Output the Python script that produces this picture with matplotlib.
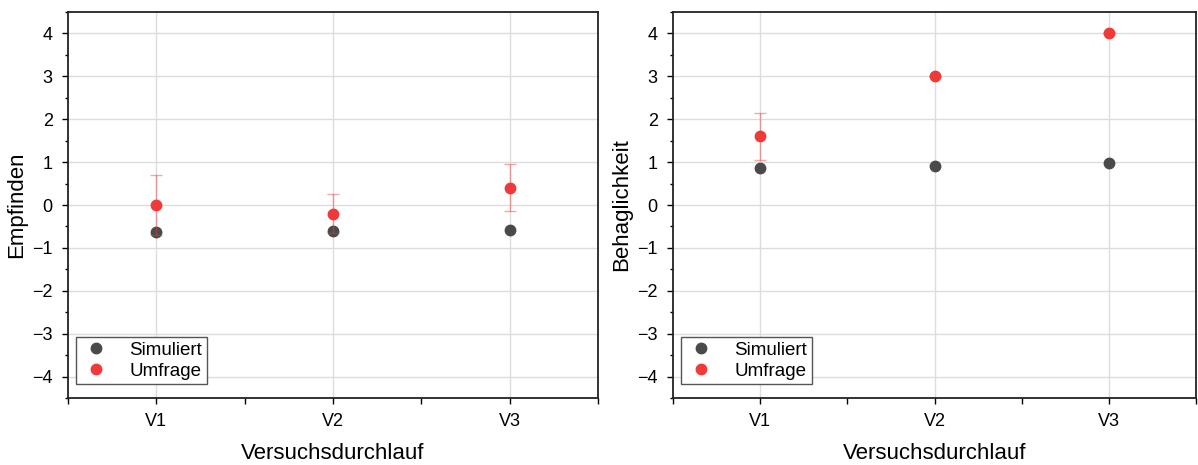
import matplotlib
matplotlib.use("Agg")
import matplotlib.pyplot as plt
from matplotlib.ticker import MultipleLocator

plt.rcParams["font.family"] = ["Liberation Sans", "DejaVu Sans"]

runs = ["V1", "V2", "V3"]
x_pos = [1, 2, 3]

# Empfinden
emp_sim = [-0.63, -0.60, -0.58]
emp_umf = [0.0, -0.2, 0.4]
emp_err = [0.7, 0.45, 0.55]

# Behaglichkeit
beh_sim = [0.87, 0.92, 0.99]
beh_umf = [1.6, 3.0, 4.0]
beh_err = [0.55, 0.0, 0.0]

GRAY = "#4a4a4a"
RED = "#f03a3a"


def drawPanel(axes, sim, umf, err, ylabel):
    axes.plot(x_pos, sim, "o", color=GRAY, ms=7.5, label="Simuliert", zorder=3)
    axes.errorbar(x_pos, umf, yerr=err, fmt="none", ecolor=RED, alpha=0.45,
                  elinewidth=1, capsize=4, capthick=1, zorder=4)
    axes.plot(x_pos, umf, "o", color=RED, ms=7.5, label="Umfrage", zorder=5)

    axes.set_xlim(0.5, 3.5)
    axes.set_ylim(-4.5, 4.5)
    axes.set_xticks(x_pos)
    axes.set_xticklabels(runs)
    axes.xaxis.set_minor_locator(MultipleLocator(0.5))
    axes.yaxis.set_major_locator(MultipleLocator(1))
    axes.yaxis.set_minor_locator(MultipleLocator(0.5))
    axes.tick_params(which="major", direction="out", length=4, width=1,
                     labelsize=13, pad=7)
    axes.tick_params(which="minor", direction="out", length=2.5, width=1)
    axes.tick_params(axis="x", which="minor", length=4)
    axes.grid(True, which="major", color="#dcdcdc", lw=1, zorder=0)
    axes.set_axisbelow(True)
    for sp in axes.spines.values():
        sp.set_linewidth(1.3)
        sp.set_color("#222222")

    axes.set_xlabel("Versuchsdurchlauf", fontsize=16, labelpad=9)
    axes.set_ylabel(ylabel, fontsize=16, labelpad=4)

    leg = axes.legend(loc="lower left", bbox_to_anchor=(0.015, 0.035),
                      fontsize=13.5, frameon=True, fancybox=False,
                      handletextpad=1.0, borderpad=0.25, labelspacing=0.2,
                      handlelength=1.6, borderaxespad=0)
    leg.get_frame().set_edgecolor("#555555")
    leg.get_frame().set_linewidth(1)
    leg.get_frame().set_alpha(1)


fig = plt.figure(figsize=(11.98, 4.65), dpi=100)
W, H = 1198.0, 465.0
ax1 = fig.add_axes([68 / W, (H - 398) / H, 530 / W, 386 / H])
ax2 = fig.add_axes([673 / W, (H - 398) / H, 523 / W, 386 / H])

drawPanel(ax1, emp_sim, emp_umf, emp_err, "Empfinden")
drawPanel(ax2, beh_sim, beh_umf, beh_err, "Behaglichkeit")

fig.savefig("out.png", dpi=100)
